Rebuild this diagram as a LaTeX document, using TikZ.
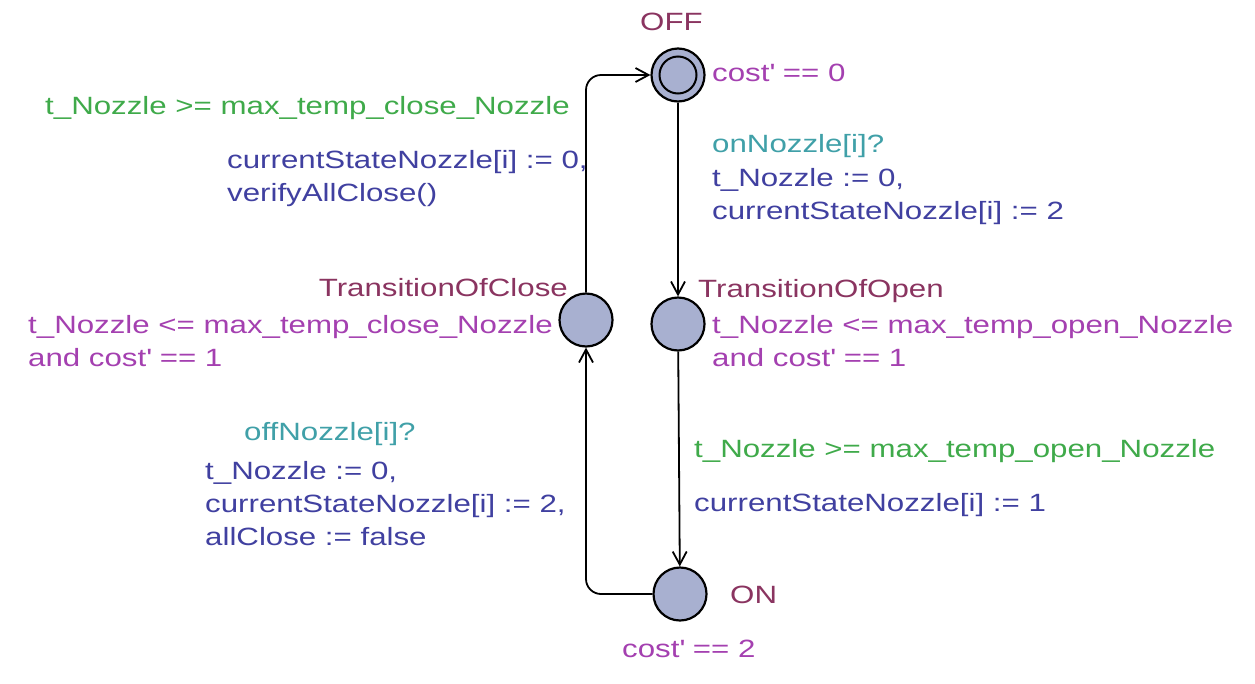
\documentclass[tikz,border=0pt]{standalone}
\usepackage{fontspec}
\setmainfont[FakeStretch=1.25]{Liberation Sans}
\usetikzlibrary{arrows.meta}

\definecolor{locname}{RGB}{138,52,96}
\definecolor{invcol}{RGB}{164,64,176}
\definecolor{guardcol}{RGB}{63,170,74}
\definecolor{synccol}{RGB}{64,160,168}
\definecolor{updcol}{RGB}{64,64,160}
\definecolor{locfill}{RGB}{168,176,208}

\begin{document}
\begin{tikzpicture}[x=1pt,y=-1pt,
        loc/.style={circle, draw=black, fill=locfill, line width=2.2pt, minimum size=53pt, inner sep=0pt},
        edge/.style={black, line width=1.8pt, -{Straight Barb[length=13pt,width=14pt,line width=1.8pt]}},
        lbl/.style={anchor=west, inner sep=0pt, align=left, font=\fontsize{25}{33}\selectfont}]

        \useasboundingbox (0,0) rectangle (1255,683);

        % locations
        \node[loc] (OFF) at (678,75) {};
        \draw[black, line width=2pt] (OFF) circle (18.5pt);
        \node[loc] (TOC) at (586,320) {};
        \node[loc] (TOO) at (678,324) {};
        \node[loc] (ON) at (680,594) {};

        % edges
        \draw[edge] (OFF) -- (TOO);
        \draw[edge] (TOO) -- (ON);
        \draw[edge, rounded corners=15pt] (ON.west) -- (TOC |- ON) -- (TOC.south);
        \draw[edge, rounded corners=15pt] (TOC.north) -- (TOC |- OFF) -- (OFF.west);

        % location names and invariants
        \node[lbl, text=locname] (nOFF) at (640,22) {OFF};
        \node[lbl, text=invcol] (iOFF) at (712,73) {cost\textquotesingle{} == 0};
        \node[lbl, text=locname] (nTOO) at (698,291) {TransitionOfOpen};
        \node[lbl, text=invcol] (iTOO) at (712,341) {t\_Nozzle <= max\_temp\_open\_Nozzle\\and cost\textquotesingle{} == 1};
        \node[lbl, text=locname, anchor=east] (nTOC) at (568,288) {TransitionOfClose};
        \node[lbl, text=invcol] (iTOC) at (28,341) {t\_Nozzle <= max\_temp\_close\_Nozzle\\and cost\textquotesingle{} == 1};
        \node[lbl, text=locname] (nON) at (730,595) {ON};
        \node[lbl, text=invcol] (iON) at (622,649) {cost\textquotesingle{} == 2};

        % OFF -> TransitionOfOpen
        \node[lbl, text=synccol] (sOpen) at (712,146) {onNozzle[i]?};
        \node[lbl, text=updcol] (uOpen) at (712,197) {t\_Nozzle := 0,\\currentStateNozzle[i] := 2};

        % TransitionOfOpen -> ON
        \node[lbl, text=guardcol] (gOn) at (694,451) {t\_Nozzle >= max\_temp\_open\_Nozzle};
        \node[lbl, text=updcol] (uOn) at (694,505) {currentStateNozzle[i] := 1};

        % ON -> TransitionOfClose
        \node[lbl, text=synccol] (sClose) at (244,434) {offNozzle[i]?};
        \node[lbl, text=updcol] (uClose) at (205,504) {t\_Nozzle := 0,\\currentStateNozzle[i] := 2,\\allClose := false};

        % TransitionOfClose -> OFF
        \node[lbl, text=guardcol] (gOff) at (45,108) {t\_Nozzle >= max\_temp\_close\_Nozzle};
        \node[lbl, text=updcol] (uOff) at (227,179) {currentStateNozzle[i] := 0,\\verifyAllClose()};
\end{tikzpicture}
\end{document}
